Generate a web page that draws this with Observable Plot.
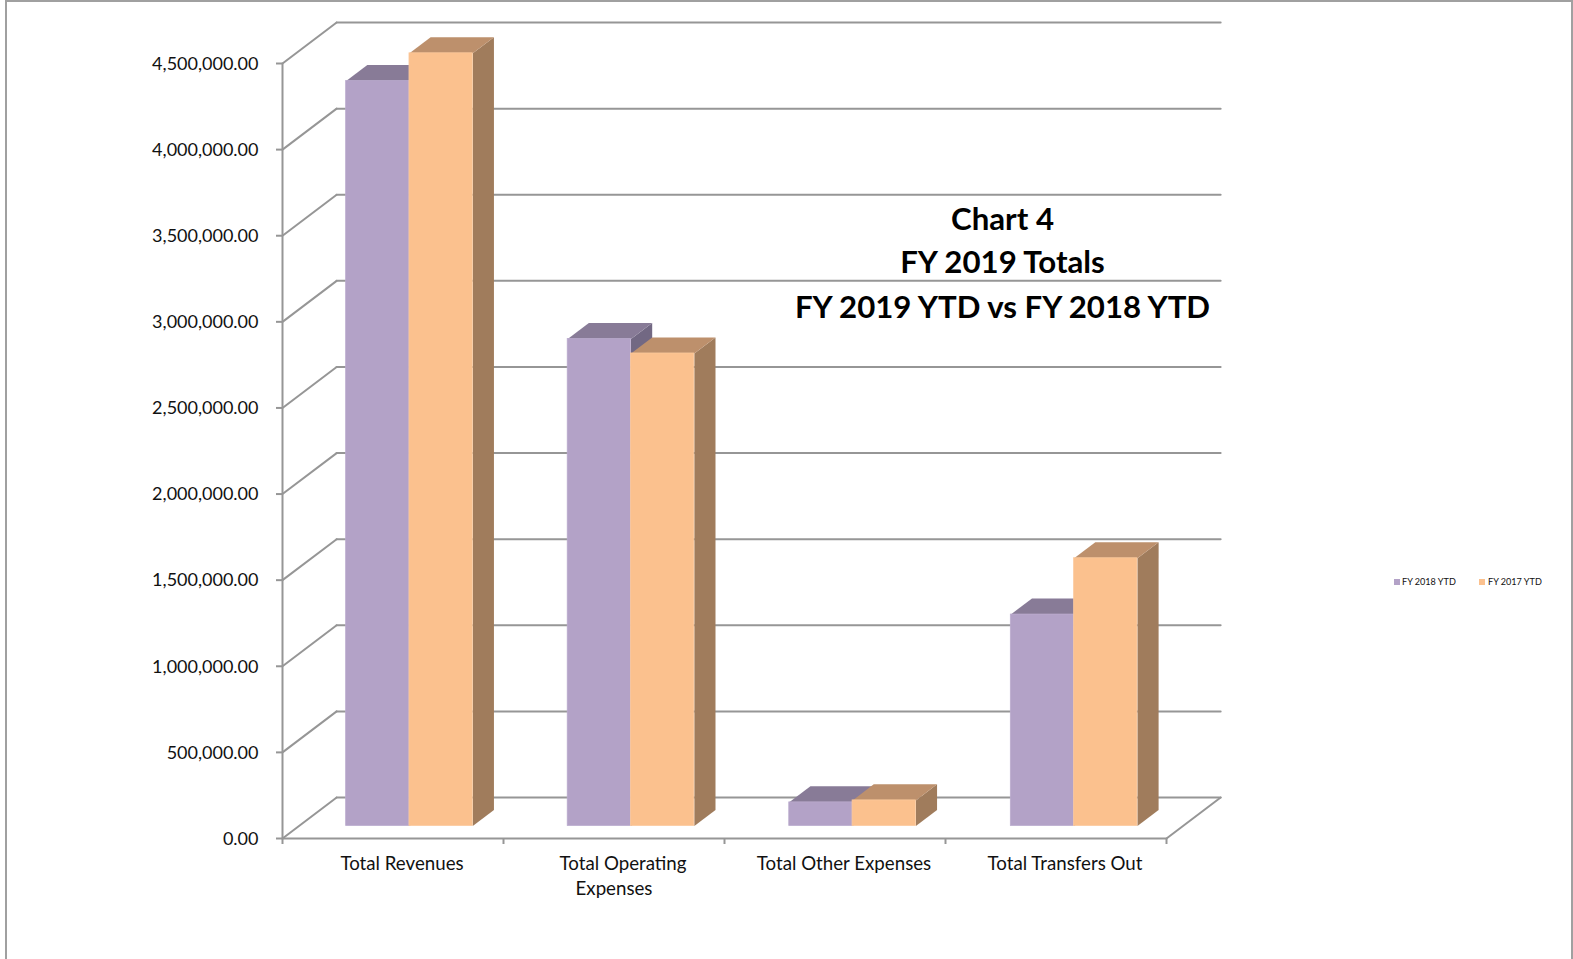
<!DOCTYPE html>
<html>
<head>
<meta charset="utf-8">
<title>Chart 4</title>
<script src="https://cdn.jsdelivr.net/npm/d3@7"></script>
<script src="https://cdn.jsdelivr.net/npm/@observablehq/plot@0.6"></script>
<style>
  html, body { margin: 0; padding: 0; background: #fff; overflow: hidden; }
  #page { position: relative; width: 1573px; height: 959px; overflow: hidden; }
  #frame { position: absolute; left: 5px; top: 0; width: 1568px; height: 959px;
           border-left: 2px solid #a0a0a0; border-right: 2px solid #a0a0a0; border-top: 2px solid #a0a0a0;
           box-sizing: border-box; pointer-events: none; }
  #legend { position: absolute; top: 576px; left: 0; font: 9.1px Lato, sans-serif; color: #111; line-height: 12px; }
  #legend span { position: absolute; white-space: nowrap; top: 0; }
  #legend i { position: absolute; top: 3px; width: 6px; height: 6px; }
  svg { position: absolute; left: 0; top: 0; }
</style>
</head>
<body>
<div id="page">
  <div id="frame"></div>
  <div id="chart"></div>
  <div id="legend"></div>
</div>
<script>
// Chart values
const categories = ["Total Revenues", "Total Operating", "Total Other Expenses", "Total Transfers Out"];
const fy2018 = [4326000, 2828000, 137500, 1228000];
const fy2017 = [4487000, 2744000, 149000, 1555000];
const yTicks = [0, 500000, 1000000, 1500000, 2000000, 2500000, 3000000, 3500000, 4000000, 4500000];
const titleLines = ["Chart 4", "FY 2019 Totals", "FY 2019 YTD vs FY 2018 YTD"];
const seriesNames = ["FY 2018 YTD", "FY 2017 YTD"];

// Face colours per series: front, top, side, and the thin front edge
const purple = {front: "#b3a2c7", top: "#887b97", side: "#726883", edge: "#bbacce"};
const orange = {front: "#fbc18e", top: "#bd906c", side: "#a07c5c", edge: "#fbc99d"};
const gridColor = "#969696";
const font = "Lato, sans-serif";

// Oblique projection of the chart box: depth 1 is the back wall
const depthX = 0.245;      // category units per unit of depth
const depthY = 237900;     // value units per unit of depth
const px = (u, d) => u + d * depthX;
const py = (v, d) => v + d * depthY;

// Bars occupy a slab of the box between these depths
const near = 0.304, far = 0.695;
const barWidth = 0.2865;
const groupStep = 1.0025;

const segment = (x1, v1, d1, x2, v2, d2) => [[px(x1, d1), py(v1, d1)], [px(x2, d2), py(v2, d2)]];
const line = (pts) => Plot.line(pts, {stroke: gridColor, strokeWidth: 2});
const face = (pts, fill) => Plot.line(pts, {fill, stroke: "none"});

// Walls and floor of the box
const wallMarks = yTicks.flatMap((v) => [
  line(segment(0, v, 0, 0, v, 1)),
  line(segment(0, v, 1, categories.length, v, 1))
]);
const floorMarks = [
  line(segment(categories.length, 0, 0, categories.length, 0, 1)),
  line(segment(0, 0, 0, 0, yTicks[yTicks.length - 1], 0)),
  line(segment(0, 0, 0, categories.length, 0, 0))
];

// One box: side and top faces first, then the front
function bar(x1, x2, v, c) {
  return [
    face([[px(x2, near), py(0, near)], [px(x2, far), py(0, far)], [px(x2, far), py(v, far)], [px(x2, near), py(v, near)]], c.side),
    face([[px(x1, near), py(v, near)], [px(x1, far), py(v, far)], [px(x2, far), py(v, far)], [px(x2, near), py(v, near)]], c.top),
    Plot.rect([{}], {x1: px(x1, near), x2: px(x2, near), y1: py(0, near), y2: py(v, near), fill: c.front, stroke: c.edge, strokeWidth: 0.75})
  ];
}
const barMarks = categories.flatMap((_, i) => {
  const start = i * groupStep + 0.5 - barWidth;
  return [
    ...bar(start, start + barWidth, fy2018[i], purple),
    ...bar(start + barWidth, start + 2 * barWidth, fy2017[i], orange)
  ];
});

const chart = Plot.plot({
  width: 1573,
  height: 959,
  marginLeft: 282,
  marginRight: 407,
  marginTop: 63,
  marginBottom: 121,
  style: {fontFamily: font, background: "transparent", overflow: "visible"},
  x: {domain: [0, categories.length], axis: null},
  y: {domain: [0, yTicks[yTicks.length - 1]], axis: null},
  marks: [
    ...wallMarks,
    ...floorMarks,
    ...barMarks,
    // Tick stubs and value labels are separate so the labels can be nudged on their own
    Plot.axisY({
      ticks: yTicks, tickFormat: () => "", label: null, tickSize: 6,
      stroke: gridColor, strokeWidth: 2
    }),
    Plot.axisY({
      ticks: yTicks, tickFormat: d3.format(",.2f"), label: null, tickSize: 0, tickPadding: 24,
      fill: "#111", fontSize: 18, fontFamily: font, dy: 0.5
    }),
    Plot.axisX({
      ticks: d3.range(categories.length + 1), tickFormat: () => "", label: null, tickSize: 6,
      stroke: gridColor, strokeWidth: 2
    }),
    Plot.text(categories, {
      x: (_, i) => i + 0.5, y: () => 0, text: (d) => d, dx: 9, dy: 26,
      fontSize: 18.7, fill: "#111", fontFamily: font
    }),
    Plot.text(["Expenses"], {
      x: () => 1.5, y: () => 0, text: (d) => d, dy: 50.5,
      fontSize: 18.7, fill: "#111", fontFamily: font
    }),
    // Heading set inside the plot area, over the back wall
    ...titleLines.map((t, i) => Plot.text([t], {
      frameAnchor: "top-left", textAnchor: "middle", lineAnchor: "middle",
      text: (d) => d, dx: 720, dy: [157, 200, 245][i],
      fontSize: 31.2, fontWeight: 700, fill: "#000", fontFamily: font
    }))
  ]
});
document.getElementById("chart").append(chart);

// Legend strip to the right of the plot
const legend = d3.select("#legend");
[[1394, 1402, purple.front], [1479, 1488, orange.front]].forEach(([sx, tx, color], i) => {
  legend.append("i").style("left", `${sx}px`).style("background", color);
  legend.append("span").style("left", `${tx}px`).text(seriesNames[i]);
});
</script>
</body>
</html>
